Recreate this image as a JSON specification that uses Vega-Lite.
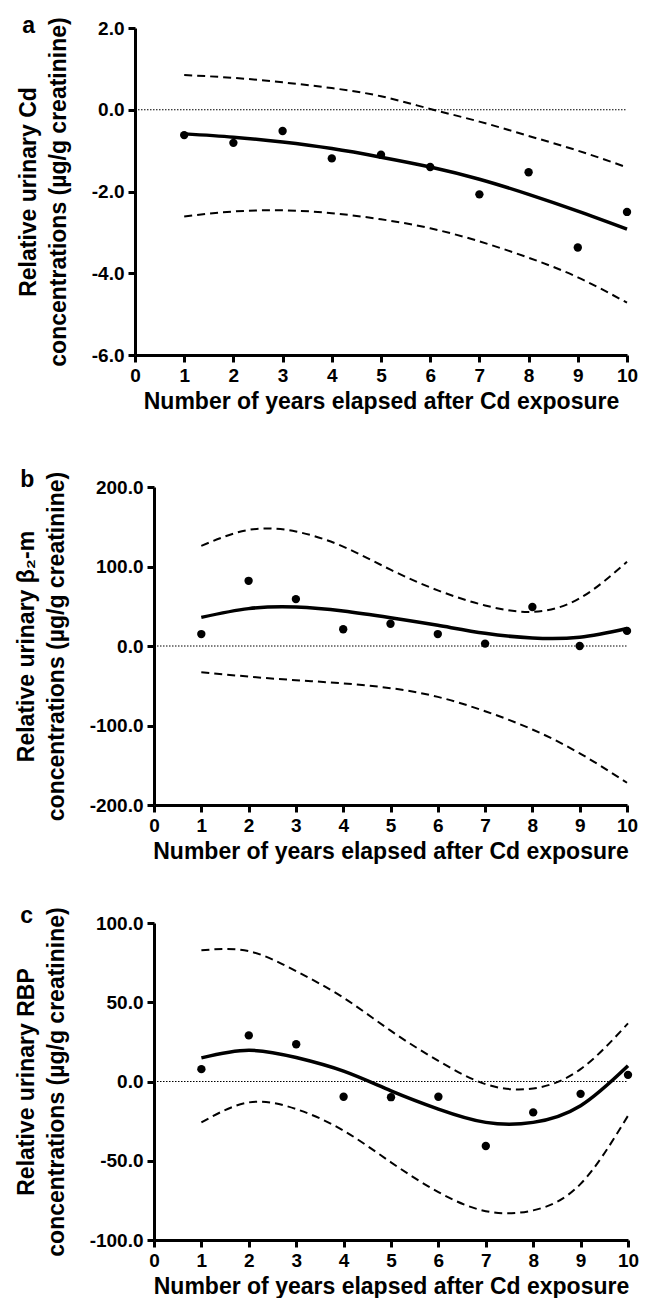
{
  "$schema": "https://vega.github.io/schema/vega-lite/v6.json",
  "background": "white",
  "padding": {"left": 15, "top": 14, "right": 0, "bottom": 0},
  "columns": 1,
  "spacing": {"row": 56, "column": 0},
  "datasets": {
    "a_pts": [
      {"x": 1, "y": -0.62}, {"x": 2, "y": -0.81}, {"x": 3, "y": -0.52}, {"x": 4, "y": -1.19}, {"x": 5, "y": -1.10},
      {"x": 6, "y": -1.40}, {"x": 7, "y": -2.07}, {"x": 8, "y": -1.53}, {"x": 9, "y": -3.37}, {"x": 10, "y": -2.50}
    ],
    "a_fit": [
      {"x": 1, "fit": -0.59, "lo": -2.61, "hi": 0.85},
      {"x": 2, "fit": -0.67, "lo": -2.49, "hi": 0.78},
      {"x": 3, "fit": -0.79, "lo": -2.46, "hi": 0.67},
      {"x": 4, "fit": -0.95, "lo": -2.53, "hi": 0.53},
      {"x": 5, "fit": -1.16, "lo": -2.68, "hi": 0.33},
      {"x": 6, "fit": -1.40, "lo": -2.90, "hi": 0.02},
      {"x": 7, "fit": -1.70, "lo": -3.22, "hi": -0.29},
      {"x": 8, "fit": -2.07, "lo": -3.62, "hi": -0.64},
      {"x": 9, "fit": -2.48, "lo": -4.10, "hi": -1.00},
      {"x": 10, "fit": -2.92, "lo": -4.72, "hi": -1.41}
    ],
    "b_pts": [
      {"x": 1, "y": 15}, {"x": 2, "y": 82}, {"x": 3, "y": 59}, {"x": 4, "y": 21}, {"x": 5, "y": 28},
      {"x": 6, "y": 15}, {"x": 7, "y": 3}, {"x": 8, "y": 49}, {"x": 9, "y": 0}, {"x": 10, "y": 19}
    ],
    "b_fit": [
      {"x": 1, "fit": 36, "lo": -33, "hi": 126},
      {"x": 2, "fit": 47, "lo": -38.5, "hi": 146},
      {"x": 3, "fit": 49, "lo": -43, "hi": 144},
      {"x": 4, "fit": 44, "lo": -47, "hi": 125},
      {"x": 5, "fit": 35.5, "lo": -53, "hi": 96},
      {"x": 6, "fit": 26, "lo": -64, "hi": 70},
      {"x": 7, "fit": 16, "lo": -82, "hi": 51},
      {"x": 8, "fit": 10, "lo": -105, "hi": 43},
      {"x": 9, "fit": 11, "lo": -135, "hi": 60},
      {"x": 10, "fit": 22, "lo": -172, "hi": 106}
    ],
    "c_pts": [
      {"x": 1, "y": 7.8}, {"x": 2, "y": 29.1}, {"x": 3, "y": 23.5}, {"x": 4, "y": -9.6}, {"x": 5, "y": -9.9},
      {"x": 6, "y": -9.6}, {"x": 7, "y": -40.7}, {"x": 8, "y": -19.5}, {"x": 9, "y": -7.8}, {"x": 10, "y": 4.2}
    ],
    "c_fit": [
      {"x": 1, "fit": 14.9, "lo": -25.8, "hi": 82.8},
      {"x": 2, "fit": 19.7, "lo": -13.2, "hi": 82.2},
      {"x": 3, "fit": 15.1, "lo": -17.4, "hi": 69.6},
      {"x": 4, "fit": 6.5, "lo": -31, "hi": 52.8},
      {"x": 5, "fit": -5.9, "lo": -51, "hi": 31.9},
      {"x": 6, "fit": -17.4, "lo": -69.8, "hi": 13},
      {"x": 7, "fit": -25.8, "lo": -81.8, "hi": -1.7},
      {"x": 8, "fit": -25.8, "lo": -81.3, "hi": -4.4},
      {"x": 9, "fit": -15.3, "lo": -64.6, "hi": 7.8},
      {"x": 10, "fit": 9.9, "lo": -21.6, "hi": 36.7}
    ]
  },
  "concat": [
    {
      "title": {"text": "a"},
      "width": 492,
      "height": 327,
      "layer": [
        {"mark": {"type": "rule", "strokeDash": [1.5, 1.5], "strokeWidth": 1, "color": "black"}, "data": {"values": [{}]}, "encoding": {"x": {"datum": 0, "type": "quantitative"}, "x2": {"datum": 10}, "y": {"datum": 0, "type": "quantitative"}}},
        {"data": {"name": "a_fit"}, "mark": {"type": "line", "interpolate": "natural", "strokeDash": [8, 5], "strokeWidth": 2, "color": "black"},
         "encoding": {"x": {"field": "x", "type": "quantitative"}, "y": {"field": "lo", "type": "quantitative"}}},
        {"data": {"name": "a_fit"}, "mark": {"type": "line", "interpolate": "natural", "strokeDash": [8, 5], "strokeWidth": 2, "color": "black"},
         "encoding": {"x": {"field": "x", "type": "quantitative"}, "y": {"field": "hi", "type": "quantitative"}}},
        {"data": {"name": "a_fit"}, "mark": {"type": "line", "interpolate": "natural", "strokeWidth": 3.5, "color": "black"},
         "encoding": {"x": {"field": "x", "type": "quantitative"}, "y": {"field": "fit", "type": "quantitative"}}},
        {"data": {"name": "a_pts"}, "mark": {"type": "circle", "size": 70, "color": "black", "opacity": 1},
         "encoding": {
           "x": {"field": "x", "type": "quantitative", "scale": {"domain": [0, 10], "nice": false}, "axis": {"values": [0,1,2,3,4,5,6,7,8,9,10], "title": "Number of years elapsed after Cd exposure"}},
           "y": {"field": "y", "type": "quantitative", "scale": {"domain": [-6, 2], "nice": false}, "axis": {"values": [-6,-4,-2,0,2], "title": ["Relative urinary Cd", "concentrations (µg/g creatinine)"]}}
         }}
      ]
    },
    {
      "columns": 1,
      "spacing": {"row": 41, "column": 0},
      "concat": [
        {
          "title": {"text": "b"},
          "width": 492,
          "height": 318,
          "layer": [
            {"mark": {"type": "rule", "strokeDash": [1.5, 1.5], "strokeWidth": 1, "color": "black"}, "data": {"values": [{}]}, "encoding": {"x": {"datum": 0, "type": "quantitative"}, "x2": {"datum": 10}, "y": {"datum": 0, "type": "quantitative"}}},
            {"data": {"name": "b_fit"}, "mark": {"type": "line", "interpolate": "natural", "strokeDash": [8, 5], "strokeWidth": 2, "color": "black"},
             "encoding": {"x": {"field": "x", "type": "quantitative"}, "y": {"field": "lo", "type": "quantitative"}}},
            {"data": {"name": "b_fit"}, "mark": {"type": "line", "interpolate": "natural", "strokeDash": [8, 5], "strokeWidth": 2, "color": "black"},
             "encoding": {"x": {"field": "x", "type": "quantitative"}, "y": {"field": "hi", "type": "quantitative"}}},
            {"data": {"name": "b_fit"}, "mark": {"type": "line", "interpolate": "natural", "strokeWidth": 3.5, "color": "black"},
             "encoding": {"x": {"field": "x", "type": "quantitative"}, "y": {"field": "fit", "type": "quantitative"}}},
            {"data": {"name": "b_pts"}, "mark": {"type": "circle", "size": 70, "color": "black", "opacity": 1},
             "encoding": {
               "x": {"field": "x", "type": "quantitative", "scale": {"domain": [0, 10], "nice": false, "range": [19, 492]}, "axis": {"values": [0,1,2,3,4,5,6,7,8,9,10], "title": "Number of years elapsed after Cd exposure"}},
               "y": {"field": "y", "type": "quantitative", "scale": {"domain": [-200, 200], "nice": false}, "axis": {"offset": -19, "values": [-200,-100,0,100,200], "title": ["Relative urinary  β₂-m", "concentrations (µg/g creatinine)"]}}
             }}
          ]
        },
        {
          "title": {"text": "c"},
          "width": 492,
          "height": 317,
          "layer": [
            {"mark": {"type": "rule", "strokeDash": [1.5, 1.5], "strokeWidth": 1, "color": "black"}, "data": {"values": [{}]}, "encoding": {"x": {"datum": 0, "type": "quantitative"}, "x2": {"datum": 10}, "y": {"datum": 0, "type": "quantitative"}}},
            {"data": {"name": "c_fit"}, "mark": {"type": "line", "interpolate": "natural", "strokeDash": [8, 5], "strokeWidth": 2, "color": "black"},
             "encoding": {"x": {"field": "x", "type": "quantitative"}, "y": {"field": "lo", "type": "quantitative"}}},
            {"data": {"name": "c_fit"}, "mark": {"type": "line", "interpolate": "natural", "strokeDash": [8, 5], "strokeWidth": 2, "color": "black"},
             "encoding": {"x": {"field": "x", "type": "quantitative"}, "y": {"field": "hi", "type": "quantitative"}}},
            {"data": {"name": "c_fit"}, "mark": {"type": "line", "interpolate": "natural", "strokeWidth": 3.5, "color": "black"},
             "encoding": {"x": {"field": "x", "type": "quantitative"}, "y": {"field": "fit", "type": "quantitative"}}},
            {"data": {"name": "c_pts"}, "mark": {"type": "circle", "size": 70, "color": "black", "opacity": 1},
             "encoding": {
               "x": {"field": "x", "type": "quantitative", "scale": {"domain": [0, 10], "nice": false, "range": [19, 493]}, "axis": {"values": [0,1,2,3,4,5,6,7,8,9,10], "title": "Number of years elapsed after Cd exposure"}},
               "y": {"field": "y", "type": "quantitative", "scale": {"domain": [-100, 100], "nice": false}, "axis": {"offset": -19, "values": [-100,-50,0,50,100], "title": ["Relative urinary RBP", "concentrations (µg/g creatinine)"]}}
             }}
          ]
        }
      ]
    }
  ],
  "config": {
    "view": {"stroke": null},
    "font": "Liberation Sans",
    "title": {"fontSize": 23, "fontWeight": "bold", "color": "black", "anchor": "start", "frame": "bounds", "offset": -21, "dx": 5, "dy": 0, "font": "Liberation Sans"},
    "axis": {
      "domainColor": "black", "domainWidth": 3, "tickColor": "black", "tickWidth": 3, "tickSize": 7,
      "grid": false, "labelFont": "Liberation Sans", "labelFontSize": 19, "labelFontWeight": "bold", "labelColor": "black",
      "labelPadding": 4, "labelFlush": false, "labelOverlap": false,
      "labelExpr": "(datum.value < 0 ? '-' : '') + format(abs(datum.value), '.1f')",
      "titleFont": "Liberation Sans", "titleFontSize": 23, "titleFontWeight": "bold", "titleColor": "black"
    },
    "axisX": {"titlePadding": 5, "labelExpr": "datum.label"},
    "axisY": {"titlePadding": 21, "titleFontSize": 23, "titleLineHeight": 30}
  }
}
